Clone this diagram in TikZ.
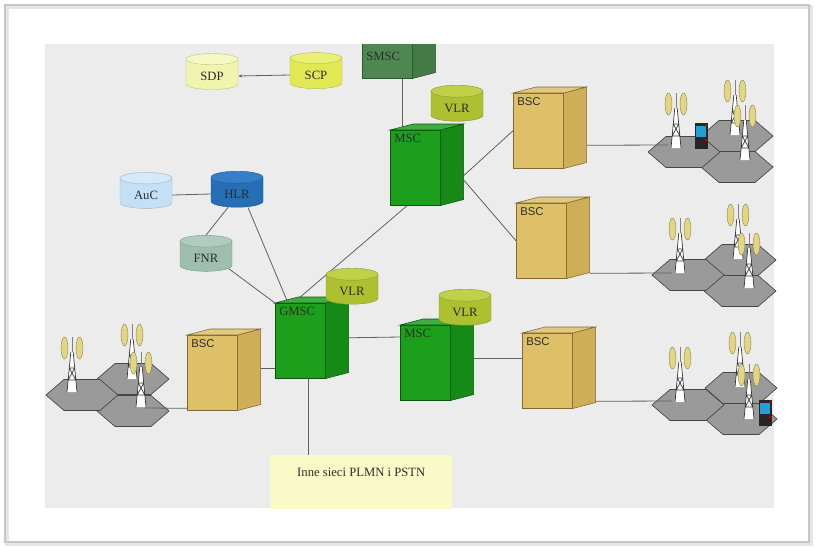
\documentclass[tikz,border=0pt]{standalone}
\usepackage{fontspec}
\setmainfont{Liberation Serif}
\newfontfamily\bscfont{Liberation Sans}
\usetikzlibrary{shapes.geometric,arrows.meta}

\definecolor{panelgray}{RGB}{236,236,236}
\definecolor{textgray}{RGB}{45,45,40}
\definecolor{bscfront}{RGB}{222,192,104}
\definecolor{bscside}{RGB}{206,174,86}
\definecolor{bscedge}{RGB}{130,104,48}
\definecolor{mscfront}{RGB}{28,160,28}
\definecolor{mscside}{RGB}{22,138,22}
\definecolor{mscedge}{RGB}{14,84,14}
\definecolor{smscfront}{RGB}{78,136,80}
\definecolor{smscside}{RGB}{68,122,70}
\definecolor{smscedge}{RGB}{44,86,46}
\definecolor{vlrbody}{RGB}{172,192,48}
\definecolor{vlrtop}{RGB}{192,208,72}
\definecolor{scpbody}{RGB}{224,232,84}
\definecolor{scptop}{RGB}{234,240,116}
\definecolor{sdpbody}{RGB}{240,244,172}
\definecolor{sdptop}{RGB}{246,248,196}
\definecolor{aucbody}{RGB}{196,224,246}
\definecolor{auctop}{RGB}{212,234,250}
\definecolor{hlrbody}{RGB}{38,110,182}
\definecolor{hlrtop}{RGB}{54,126,198}
\definecolor{fnrbody}{RGB}{158,190,174}
\definecolor{fnrtop}{RGB}{176,204,190}
\definecolor{netyellow}{RGB}{250,250,200}
\definecolor{cellgray}{RGB}{154,154,154}
\definecolor{antenna}{RGB}{226,214,130}

\pgfdeclarelayer{bg}
\pgfdeclarelayer{links}
\pgfsetlayers{bg,links,main}

\tikzset{
  box/.style={rectangle, anchor=north west, minimum width=37.5pt, minimum height=56.25pt, inner sep=0pt, line width=0.4pt},
  db/.style 2 args={cylinder, shape border rotate=90, aspect=0.35, minimum width=39pt, minimum height=27pt,
    cylinder uses custom fill, cylinder body fill=#1, cylinder end fill=#2, draw=#1!80!black, line width=0.3pt,
    text=textgray, font=\fontsize{9.5}{10}\selectfont},
  link/.style={draw=gray!75!black, line width=0.6pt},
  towerline/.style={draw=gray!40!black, line width=0.5pt},
  % radio cell seen in perspective
  cell/.pic={\filldraw[fill=cellgray, draw=gray!55!black, line width=0.5pt]
    (-36,0) -- (-18,-15.5) -- (18,-15.5) -- (36,0) -- (18,15.5) -- (-18,15.5) -- cycle;},
  tower/.pic={
    \fill[white] (-5,0) -- (-1.2,-40) -- (1.2,-40) -- (5,0) -- cycle;
    \draw[towerline] (-5,0) -- (-1.2,-40) (5,0) -- (1.2,-40)
      (-3.8,-12) -- (3.8,-12) (-2.7,-24) -- (2.7,-24)
      (-3.8,-12) -- (2.7,-24) (3.8,-12) -- (-2.7,-24);
    \draw[towerline, draw=gray] (0,-40) -- (0,-55);
    \filldraw[fill=antenna, draw=antenna!60!black, line width=0.3pt] (-7.5,-44) ellipse [x radius=2.6pt, y radius=8.2pt];
    \filldraw[fill=antenna, draw=antenna!60!black, line width=0.3pt] (7.5,-44) ellipse [x radius=2.6pt, y radius=8.2pt];
  },
  phone/.pic={
    \fill[black!85] (-6.5,-13) rectangle (6.5,13);
    \fill[cyan!70!teal] (-5,-10) rectangle (5,1);
    \fill[red!70!black] (4,-12) rectangle (6.5,-10) (4,3) rectangle (6.5,5);
  }
}

% box with a front face (the node), a side face and a top face
\newcommand{\cube}[5]{%
  \node[box, fill=#3front, draw=#3edge,
    label={[anchor=north west, inner sep=3pt, text=textgray, #4]north west:#5}] (#1) at (#2) {};
  \filldraw[fill=#3side, draw=#3edge, line width=0.4pt]
    (#1.north east) -- ++(23,-6) -- ([shift={(23,-6)}]#1.south east) -- (#1.south east) -- cycle;
  \filldraw[fill=#3front!85!white, draw=#3edge, line width=0.4pt]
    (#1.north west) -- ++(23,-6) -- ++(50,0) -- (#1.north east) -- cycle;
}
\newcommand{\mscfont}{\fontsize{9.5}{10}\selectfont}
\newcommand{\bsclabel}{\bscfont\fontsize{8.5}{10}\selectfont}

\begin{document}
\begin{tikzpicture}[x=0.75pt, y=-0.75pt]
\useasboundingbox (0,0) rectangle (816,547);

\begin{pgfonlayer}{bg}
\fill[white] (0,0) rectangle (816,547);
% frame with soft shadow
\draw[gray!20, line width=3pt] (7,7) rectangle (811,544);
\draw[gray!45, line width=0.8pt] (5,5) rectangle (809,542);
\fill[panelgray] (45,44) rectangle (774,508);
% radio cells
\pic at (737,136) {cell}; \pic at (737,167) {cell}; \pic at (684,152) {cell};
\pic at (740,260) {cell}; \pic at (740,291) {cell}; \pic at (688,275) {cell};
\pic at (741,388) {cell}; \pic at (741,419) {cell}; \pic at (688,405) {cell};
\pic at (133,379) {cell}; \pic at (133,411) {cell}; \pic at (82,395) {cell};
\end{pgfonlayer}

\coordinate (cell1) at (668,145);
\coordinate (cell2) at (672,273);
\coordinate (cell3) at (672,401);
\coordinate (cell4) at (145,408);

\begin{scope}
\clip (45,44) rectangle (774,508);

% databases
\node[db={sdpbody}{sdptop}] (sdp) at (212,76) {SDP};
\node[db={scpbody}{scptop}] (scp) at (316,75) {SCP};
\node[db={aucbody}{auctop}] (auc) at (146,195) {AuC};
\node[db={hlrbody}{hlrtop}] (hlr) at (237,194) {HLR};
\node[db={fnrbody}{fnrtop}] (fnr) at (206,258) {FNR};
\node[fill=netyellow, rectangle, anchor=north west, minimum width=136.5pt, minimum height=60pt,
  label={[anchor=north, yshift=-6pt, text=textgray, font=\fontsize{9.5}{10}\selectfont]north:Inne sieci PLMN i PSTN}]
  (other) at (270,455) {};

% switches and base station controllers
\cube{smsc}{362,3}{smsc}{font=\mscfont, yshift=-34pt}{SMSC}
\cube{msc1}{390,130}{msc}{font=\mscfont}{MSC}
\cube{gmsc}{275,303}{msc}{font=\mscfont}{GMSC}
\cube{msc2}{400,325}{msc}{font=\mscfont}{MSC}
\cube{bsc1}{513,93}{bsc}{font=\bsclabel}{BSC}
\cube{bsc2}{516,203}{bsc}{font=\bsclabel}{BSC}
\cube{bsc3}{522,333}{bsc}{font=\bsclabel}{BSC}
\cube{bscl}{187,335}{bsc}{font=\bsclabel}{BSC}

% visitor registers on top of the switches
\node[db={vlrbody}{vlrtop}] (vlr1) at (457,108) {VLR};
\node[db={vlrbody}{vlrtop}] (vlr2) at (352,291) {VLR};
\node[db={vlrbody}{vlrtop}] (vlr3) at (465,312) {VLR};
\end{scope}

% connectors, kept behind the boxes
\begin{pgfonlayer}{links}
\draw[link, -{Latex[length=2.5pt, width=2.5pt]}] (scp.west) -- (sdp.east);
\draw[link] (auc.east) -- (hlr.west);
\draw[link] ([shift={(-9,0)}]hlr.south) -- (fnr.north);
\draw[link] ([shift={(11,0)}]hlr.south) -- ([shift={(13,0)}]gmsc.north west);
\draw[link] (fnr.-25) -- (gmsc.north west);
\draw[link] ([shift={(15,0)}]smsc.south) -- ([shift={(-13,0)}]msc1.north);
\draw[link] ([shift={(23,8)}]msc1.east) -- (bsc1.west);
\draw[link] ([shift={(23,12)}]msc1.east) -- (bsc2.west);
\draw[link] ([shift={(-8,0)}]msc1.south) -- ([shift={(0,-6)}]gmsc.north);
\draw[link] ([shift={(23,-3)}]gmsc.east) -- ([shift={(0,12)}]msc2.north west);
\draw[link] ([shift={(0,28)}]gmsc.west) -- ([shift={(23,-4)}]bscl.east);
\draw[link] ([shift={(8,0)}]gmsc.south) -- ([shift={(-53,0)}]other.north);
\draw[link] ([shift={(23,-4.5)}]msc2.east) -- ([shift={(0,-12.5)}]bsc3.west);
\draw[link] ([shift={(23,14.5)}]bsc1.east) -- (cell1);
\draw[link] ([shift={(23,32.5)}]bsc2.east) -- (cell2);
\draw[link] ([shift={(23,30.5)}]bsc3.east) -- (cell3);
\draw[link] ([shift={(0,35.5)}]bscl.west) -- (cell4);
\end{pgfonlayer}

% antennas and handsets
\pic at (676,148) {tower}; \pic at (735,135) {tower}; \pic at (745,160) {tower};
\pic at (701,136) {phone};
\pic at (680,273) {tower}; \pic at (738,259) {tower}; \pic at (749,288) {tower};
\pic at (680,402) {tower}; \pic at (740,387) {tower}; \pic at (749,419) {tower};
\pic at (765,413) {phone};
\pic at (72,392) {tower}; \pic at (132,379) {tower}; \pic at (141,407) {tower};
\end{tikzpicture}
\end{document}
